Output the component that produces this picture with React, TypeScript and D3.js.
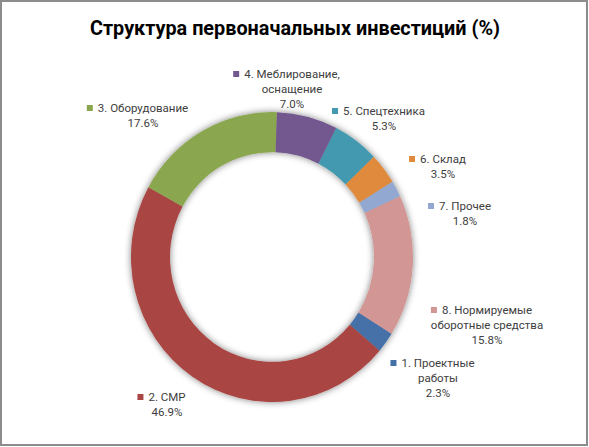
import React, { useEffect, useRef } from 'react';
import * as d3 from 'd3';

const W = 589;
const H = 447;

const title = 'Структура первоначальных инвестиций (%)';

// category names, line breaks as in the data labels
const categories = [
  '1. Проектные\nработы',
  '2. СМР',
  '3. Оборудование',
  '4. Меблирование,\nоснащение',
  '5. Спецтехника',
  '6. Склад',
  '7. Прочее',
  '8. Нормируемые\nоборотные средства',
];
const values = [2.3, 46.9, 17.6, 7.0, 5.3, 3.5, 1.8, 15.8];
const colors = ['#4470a8', '#a94543', '#8aa74f', '#73588f', '#4299b0', '#df8a3e', '#93a8d0', '#d29695'];

// label block anchors: centre x, first baseline y
const labelAnchors = [
  [438, 367], [167, 401], [143, 112], [292, 78],
  [384, 115], [443, 163], [465, 210], [487, 314],
];

const cx = 272;
const cy = 257;
const outerR = 141;
const innerR = 102;
const firstSliceAngle = (122 * Math.PI) / 180;

export default function App() {
  const ref = useRef<SVGSVGElement>(null);

  useEffect(() => {
    const svg = d3.select(ref.current);
    svg.selectAll('*').remove();

    const defs = svg.append('defs');
    const f = defs.append('filter').attr('id', 'ringShadow')
      .attr('x', '-20%').attr('y', '-20%').attr('width', '140%').attr('height', '140%');
    f.append('feGaussianBlur').attr('in', 'SourceAlpha').attr('stdDeviation', 3.5).attr('result', 'b');
    f.append('feComponentTransfer').attr('in', 'b').attr('result', 's')
      .append('feFuncA').attr('type', 'linear').attr('slope', 0.5);
    const m = f.append('feMerge');
    m.append('feMergeNode').attr('in', 's');
    m.append('feMergeNode').attr('in', 'SourceGraphic');

    svg.append('rect')
      .attr('x', 1).attr('y', 1).attr('width', W - 3).attr('height', H - 3)
      .attr('fill', '#fff').attr('stroke', '#8c8c8c').attr('stroke-width', 2);

    svg.append('text')
      .attr('x', 295).attr('y', 35)
      .attr('text-anchor', 'middle')
      .attr('font-family', 'Roboto, "Noto Sans", sans-serif')
      .attr('font-weight', 'bold')
      .attr('font-size', 19.5)
      .attr('fill', '#000')
      .attr('textLength', 410)
      .attr('lengthAdjust', 'spacingAndGlyphs')
      .text(title);

    const pie = d3.pie<number>()
      .value((d) => d)
      .sort(null)
      .startAngle(firstSliceAngle)
      .endAngle(firstSliceAngle + 2 * Math.PI);

    const arc = d3.arc<d3.PieArcDatum<number>>()
      .innerRadius(innerR)
      .outerRadius(outerR);

    const ring = svg.append('g')
      .attr('transform', `translate(${cx},${cy}) scale(1,1.028)`)
      .attr('filter', 'url(#ringShadow)');

    ring.selectAll('path')
      .data(pie(values))
      .enter()
      .append('path')
      .attr('d', arc)
      .attr('fill', (d, i) => colors[i]);

    const labels = svg.append('g')
      .attr('font-family', 'Roboto, "Noto Sans", sans-serif')
      .attr('font-size', 11.5)
      .attr('fill', '#404040');

    categories.forEach((name, i) => {
      const [lx, ly] = labelAnchors[i];
      const lines = name.split('\n').concat([values[i].toFixed(1) + '%']);
      const g = labels.append('g');
      const texts = lines.map((line, j) =>
        g.append('text')
          .attr('x', lx)
          .attr('y', ly + j * 15.2)
          .attr('text-anchor', 'middle')
          .text(line)
      );
      const w = (texts[0].node() as SVGTextElement).getComputedTextLength();
      g.append('rect')
        .attr('x', lx - w / 2 - 11)
        .attr('y', ly - 7)
        .attr('width', 6)
        .attr('height', 6)
        .attr('fill', colors[i]);
    });
  }, []);

  return (
    <svg
      ref={ref}
      width={W}
      height={H}
      style={{ position: 'absolute', left: 0, top: 0, display: 'block', background: '#fff' }}
    />
  );
}
